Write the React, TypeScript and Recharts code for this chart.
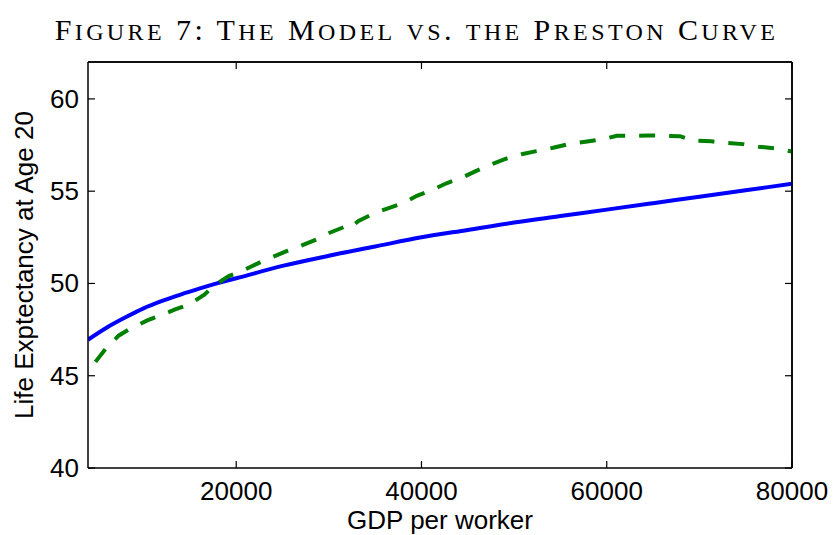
import React from 'react';
import { LineChart, Line, XAxis, YAxis, ReferenceLine } from 'recharts';

// Model curve (blue, solid)
const modelGdp = [4000, 6000, 8000, 10000, 12000, 14000, 16000, 18000, 20000, 25000, 30000, 35000, 40000, 45000, 50000, 55000, 60000, 65000, 70000, 75000, 80000];
const modelLife = [46.95, 47.6, 48.15, 48.65, 49.05, 49.4, 49.72, 50.02, 50.28, 50.95, 51.5, 52.0, 52.5, 52.9, 53.3, 53.65, 54.0, 54.35, 54.7, 55.05, 55.4];

// Preston curve (green, dashed)
const prestonGdp = [4800, 5900, 7300, 8400, 10400, 11800, 13400, 14900, 16600, 17500, 19200, 20600, 22800, 25500, 26900, 28700, 30100, 31900, 32300, 33200, 34800, 36300, 38000, 39500, 41300, 42700, 44400, 45800, 47600, 49000, 50800, 52400, 54200, 55900, 57700, 59300, 61100, 62700, 64500, 66100, 67900, 69300, 71300, 73000, 74700, 76400, 78200, 80000];
const prestonLife = [45.75, 46.45, 47.17, 47.5, 48.0, 48.26, 48.59, 48.86, 49.4, 49.85, 50.4, 50.67, 51.2, 51.76, 52.03, 52.39, 52.75, 53.11, 53.02, 53.39, 53.78, 54.06, 54.35, 54.75, 55.1, 55.43, 55.74, 56.07, 56.47, 56.74, 57.0, 57.17, 57.35, 57.55, 57.68, 57.79, 58.0, 58.0, 58.02, 58.0, 57.98, 57.74, 57.7, 57.61, 57.55, 57.41, 57.32, 57.15];

const xDomain = [4000, 80000];
const yDomain = [40, 62];
const xTicks = [20000, 40000, 60000, 80000];
const yTicks = [40, 45, 50, 55, 60];

const TITLE = 'Figure 7: The Model vs. the Preston Curve';

const modelData = modelGdp.map((g, i) => ({ gdp: g, life: modelLife[i] }));
const prestonData = prestonGdp.map((g, i) => ({ gdp: g, life: prestonLife[i] }));

const FONT = '"Liberation Sans", Arial, sans-serif';
const TICK_LEN = 7;

// small caps drawn by hand so the lowercase letters can be a bit larger
const SmallCaps = ({ text }: { text: string }) => (
  <>
    {text.split('').map((ch, i) =>
      ch >= 'a' && ch <= 'z' ? (
        <span key={i} style={{ fontSize: '0.8em' }}>{ch.toUpperCase()}</span>
      ) : (
        <span key={i}>{ch}</span>
      )
    )}
  </>
);

const BottomTick = (props: any) => {
  const { x, y, payload } = props;
  return (
    <g>
      <line x1={x} y1={y} x2={x} y2={y - TICK_LEN} stroke="#000" strokeWidth={1.2} />
      <text x={x} y={y + 32} textAnchor="middle" fontSize={26} fontFamily={FONT} fill="#000">
        {payload.value}
      </text>
    </g>
  );
};

const TopTick = (props: any) => {
  const { x, y } = props;
  return <line x1={x} y1={y} x2={x} y2={y + TICK_LEN} stroke="#000" strokeWidth={1.2} />;
};

const LeftTick = (props: any) => {
  const { x, y, payload } = props;
  return (
    <g>
      <line x1={x} y1={y} x2={x + TICK_LEN} y2={y} stroke="#000" strokeWidth={1.2} />
      <text x={x - 9} y={y + 9} textAnchor="end" fontSize={26} fontFamily={FONT} fill="#000">
        {payload.value}
      </text>
    </g>
  );
};

const RightTick = (props: any) => {
  const { x, y } = props;
  return <line x1={x} y1={y} x2={x - TICK_LEN} y2={y} stroke="#000" strokeWidth={1.2} />;
};

export default function App() {
  return (
    <div style={{ position: 'absolute', left: 0, top: 0, width: 833, height: 535, background: '#fff' }}>
      <div
        style={{
          position: 'absolute',
          left: 0,
          top: 13,
          width: 833,
          lineHeight: '34px',
          textAlign: 'center',
          fontFamily: '"Liberation Serif", "Times New Roman", serif',
          fontSize: 30,
          letterSpacing: 3.4,
          color: '#000',
          whiteSpace: 'nowrap',
        }}
      >
        <SmallCaps text={TITLE} />
      </div>
      <LineChart width={833} height={535} margin={{ top: 61, right: 40, left: 0, bottom: 0 }}>
        <XAxis
          xAxisId="b"
          dataKey="gdp"
          type="number"
          domain={xDomain}
          ticks={xTicks}
          allowDataOverflow
          height={67}
          tickSize={0}
          tickMargin={0}
          tickLine={false}
          axisLine={{ stroke: '#000', strokeWidth: 1.5 }}
          tick={BottomTick}
          label={() => (
            <text x={440} y={529} textAnchor="middle" fontSize={26} fontFamily={FONT} fill="#000">
              GDP per worker
            </text>
          )}
        />
        <XAxis
          xAxisId="t"
          orientation="top"
          dataKey="gdp"
          type="number"
          domain={xDomain}
          ticks={xTicks}
          allowDataOverflow
          height={1}
          tickSize={0}
          tickMargin={0}
          tickLine={false}
          axisLine={{ stroke: '#000', strokeWidth: 1.5 }}
          tick={TopTick}
        />
        <YAxis
          yAxisId="l"
          type="number"
          domain={yDomain}
          ticks={yTicks}
          allowDataOverflow
          width={88}
          tickSize={0}
          tickMargin={0}
          tickLine={false}
          axisLine={{ stroke: '#000', strokeWidth: 1.5 }}
          tick={LeftTick}
          label={() => (
            <text
              x={33}
              y={265}
              transform="rotate(-90 33 265)"
              textAnchor="middle"
              fontSize={26}
              fontFamily={FONT}
              fill="#000"
            >
              Life Exptectancy at Age 20
            </text>
          )}
        />
        <YAxis
          yAxisId="r"
          orientation="right"
          type="number"
          domain={yDomain}
          ticks={yTicks}
          allowDataOverflow
          width={1}
          tickSize={0}
          tickMargin={0}
          tickLine={false}
          axisLine={{ stroke: '#000', strokeWidth: 1.5 }}
          tick={RightTick}
        />
        {/* frame on top and right, in case the mirror axes are skipped */}
        <ReferenceLine xAxisId="b" yAxisId="l" y={yDomain[1]} stroke="#000" strokeWidth={1.5} ifOverflow="visible" />
        <ReferenceLine xAxisId="b" yAxisId="l" x={xDomain[1]} stroke="#000" strokeWidth={1.5} ifOverflow="visible" />
        {/* invisible series so the top/right axes have something to scale */}
        <Line
          xAxisId="t"
          yAxisId="r"
          data={modelData}
          dataKey="life"
          stroke="none"
          dot={false}
          activeDot={false}
          legendType="none"
          isAnimationActive={false}
        />
        <Line
          xAxisId="b"
          yAxisId="l"
          data={modelData}
          dataKey="life"
          type="monotone"
          stroke="#0000ff"
          strokeWidth={4}
          dot={false}
          isAnimationActive={false}
        />
        <Line
          xAxisId="b"
          yAxisId="l"
          data={prestonData}
          dataKey="life"
          type="linear"
          stroke="#008000"
          strokeWidth={4}
          strokeDasharray="16 14"
          dot={false}
          isAnimationActive={false}
        />
      </LineChart>
    </div>
  );
}
